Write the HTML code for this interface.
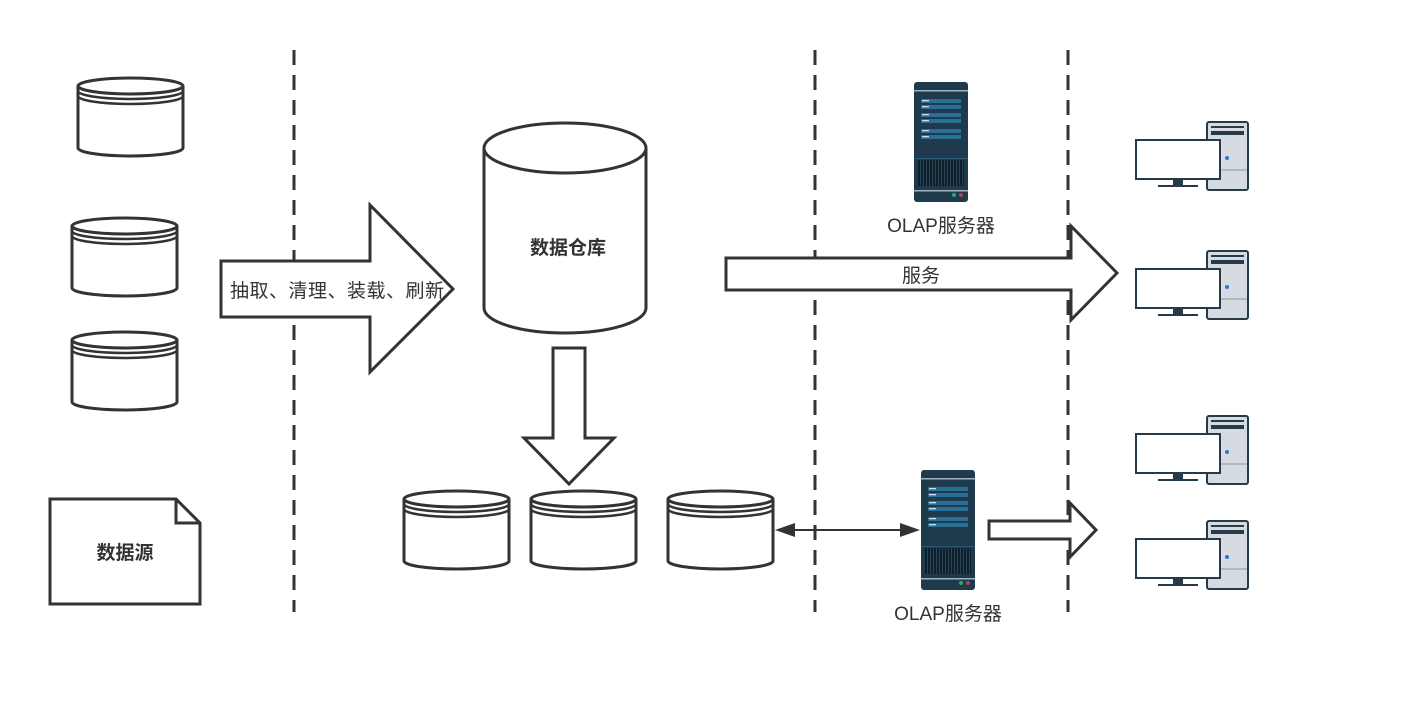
<!DOCTYPE html>
<html><head><meta charset="utf-8"><style>
body{margin:0;background:#fff}
svg text{font-family:"Liberation Sans","Noto Sans CJK SC",sans-serif;fill:#333}
</style></head><body>
<svg width="1428" height="714" viewBox="0 0 1428 714" xmlns="http://www.w3.org/2000/svg">
<defs>
<pattern id="grill" width="3" height="10" patternUnits="userSpaceOnUse"><rect width="3" height="10" fill="#0d1f2b"/><rect width="1" height="10" fill="#2c4556"/></pattern>
<g id="cyl">
<path d="M0,8 L0,70 A52.5,8 0 0 0 105,70 L105,8" fill="#fff" stroke="#333" stroke-width="3"/>
<ellipse cx="52.5" cy="8" rx="52.5" ry="8" fill="#fff" stroke="#333" stroke-width="3"/>
<path d="M0,13 A52.5,8 0 0 0 105,13 M0,18 A52.5,8 0 0 0 105,18" fill="none" stroke="#333" stroke-width="2.5"/>
</g>
<g id="srv">
<rect x="0" y="0" width="54" height="120" rx="3" fill="#1e3a4c"/>
<rect x="0" y="8" width="54" height="1.5" fill="#9fb3c0"/>
<rect x="7" y="17" width="40" height="4" fill="#2a6f98"/><rect x="7" y="23" width="40" height="4" fill="#2a6f98"/>
<rect x="7" y="31" width="40" height="4" fill="#2a6f98"/><rect x="7" y="37" width="40" height="4" fill="#2a6f98"/>
<rect x="7" y="47" width="40" height="4" fill="#2a6f98"/><rect x="7" y="53" width="40" height="4" fill="#2a6f98"/>
<rect x="8" y="18" width="7" height="1.3" fill="#cde"/><rect x="8" y="24" width="7" height="1.3" fill="#cde"/>
<rect x="8" y="32" width="7" height="1.3" fill="#cde"/><rect x="8" y="38" width="7" height="1.3" fill="#cde"/>
<rect x="8" y="48" width="7" height="1.3" fill="#cde"/><rect x="8" y="54" width="7" height="1.3" fill="#cde"/>
<rect x="0" y="76" width="54" height="1" fill="#2a5a78"/>
<rect x="4" y="78" width="46" height="26" fill="url(#grill)"/>
<rect x="0" y="108" width="54" height="1.5" fill="#9fb3c0"/>
<circle cx="40" cy="113" r="2" fill="#2fa86a"/><circle cx="47" cy="113" r="2" fill="#c0394f"/>
</g>
<g id="pc">
<rect x="0" y="0" width="41" height="68" rx="2" fill="#d5dbe0" stroke="#263a48" stroke-width="2"/>
<rect x="4" y="4" width="33" height="2" fill="#263a48"/>
<rect x="4" y="9" width="33" height="4" fill="#263a48"/>
<line x1="1" y1="48" x2="40" y2="48" stroke="#8a99a5" stroke-width="1"/>
<circle cx="20" cy="36" r="2" fill="#2a74d8"/>
<rect x="-71" y="18" width="84" height="39" fill="#fff" stroke="#263a48" stroke-width="2"/>
<rect x="-34" y="57" width="10" height="6" fill="#263a48"/>
<rect x="-49" y="63" width="40" height="2" fill="#263a48"/>
</g>
</defs>
<g stroke="#333" stroke-width="3" stroke-dasharray="15,10">
<line x1="294" y1="50" x2="294" y2="612"/>
<line x1="815" y1="50" x2="815" y2="612"/>
<line x1="1068" y1="50" x2="1068" y2="612"/>
</g>
<use href="#cyl" x="78" y="78"/>
<use href="#cyl" x="72" y="218"/>
<use href="#cyl" x="72" y="332"/>
<use href="#cyl" x="404" y="491"/>
<use href="#cyl" x="531" y="491"/>
<use href="#cyl" x="668" y="491"/>
<path d="M50,499 L176,499 L200,523 L200,604 L50,604 Z" fill="#fff" stroke="#333" stroke-width="3"/>
<path d="M176,499 L176,523 L200,523" fill="none" stroke="#333" stroke-width="3"/>
<text x="125" y="559" font-size="19" font-weight="bold" text-anchor="middle">数据源</text>
<path d="M221,261 L370,261 L370,205 L453,289 L370,372 L370,317 L221,317 Z" fill="#fff" stroke="#333" stroke-width="3"/>
<text x="337" y="297" font-size="19" text-anchor="middle" textLength="214">抽取、清理、装载、刷新</text>
<path d="M484,148 L484,308 A81,25 0 0 0 646,308 L646,148" fill="#fff" stroke="#333" stroke-width="3"/>
<ellipse cx="565" cy="148" rx="81" ry="25" fill="#fff" stroke="#333" stroke-width="3"/>
<text x="568" y="254" font-size="19" font-weight="bold" text-anchor="middle">数据仓库</text>
<path d="M553,348 L585,348 L585,438 L614,438 L569,484 L524,438 L553,438 Z" fill="#fff" stroke="#333" stroke-width="3"/>
<path d="M726,258 L1071,258 L1071,226 L1117,273 L1071,320 L1071,290 L726,290 Z" fill="#fff" stroke="#333" stroke-width="3"/>
<text x="921" y="282" font-size="19" text-anchor="middle">服务</text>
<path d="M989,521 L1070,521 L1070,503 L1096,530 L1070,557 L1070,539 L989,539 Z" fill="#fff" stroke="#333" stroke-width="3"/>
<line x1="790" y1="530" x2="905" y2="530" stroke="#333" stroke-width="2"/>
<path d="M775,530 L795,523 L795,537 Z M920,530 L900,523 L900,537 Z" fill="#333"/>
<use href="#srv" x="914" y="82"/>
<use href="#srv" x="921" y="470"/>
<text x="941" y="232" font-size="19" text-anchor="middle">OLAP服务器</text>
<text x="948" y="620" font-size="19" text-anchor="middle">OLAP服务器</text>
<use href="#pc" x="1207" y="122"/>
<use href="#pc" x="1207" y="251"/>
<use href="#pc" x="1207" y="416"/>
<use href="#pc" x="1207" y="521"/>
</svg>
</body></html>
